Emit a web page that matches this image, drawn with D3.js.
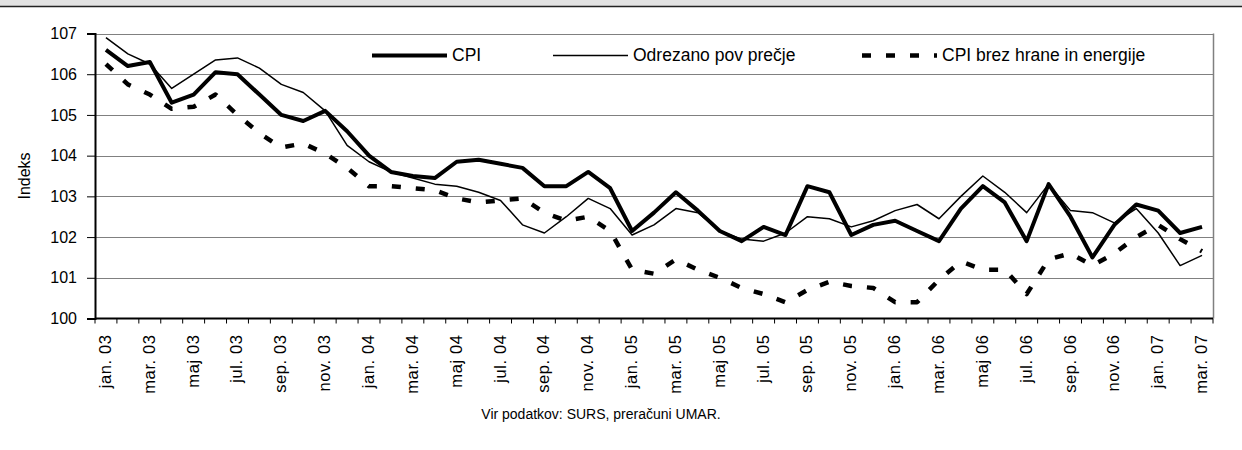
<!DOCTYPE html>
<html>
<head>
<meta charset="utf-8">
<script src="https://cdn.jsdelivr.net/npm/d3@7"></script>
<style>
  body { margin: 0; background: #fff; }
  svg { font-family: "Liberation Sans", Arial, sans-serif; }
</style>
</head>
<body>
<div id="chart"></div>
<script>
const months = ["jan.", "feb.", "mar.", "apr.", "maj", "jun.", "jul.", "avg.", "sep.", "okt.", "nov.", "dec."];
const years = ["03", "04", "05", "06", "07"];

// jan. 03 - mar. 07
const categories = [];
years.forEach(y => months.forEach(m => categories.push(m + " " + y)));
categories.splice(51);

const cpi = [106.6, 106.2, 106.3, 105.3, 105.5, 106.05, 106.0, 105.5, 105.0, 104.85,
  105.1, 104.6, 104.0, 103.6, 103.5, 103.45, 103.85, 103.9, 103.8, 103.7,
  103.25, 103.25, 103.6, 103.2, 102.15, 102.6, 103.1, 102.65, 102.15, 101.9,
  102.25, 102.05, 103.25, 103.1, 102.05, 102.3, 102.4, 102.15, 101.9, 102.7,
  103.25, 102.85, 101.9, 103.3, 102.5, 101.5, 102.3, 102.8, 102.65, 102.1, 102.25];

const odrezano = [106.9, 106.5, 106.25, 105.65, 106.0, 106.35, 106.4, 106.15, 105.75, 105.55,
  105.1, 104.25, 103.85, 103.6, 103.45, 103.3, 103.25, 103.1, 102.9, 102.3,
  102.1, 102.5, 102.95, 102.7, 102.05, 102.3, 102.7, 102.6, 102.15, 101.95,
  101.9, 102.1, 102.5, 102.45, 102.25, 102.4, 102.65, 102.8, 102.45, 103.0,
  103.5, 103.1, 102.6, 103.3, 102.65, 102.6, 102.35, 102.7, 102.1, 101.3, 101.55];

const brezHrane = [106.25, 105.75, 105.5, 105.15, 105.2, 105.5, 105.0, 104.55, 104.2, 104.3,
  104.05, 103.7, 103.25, 103.25, 103.2, 103.15, 102.95, 102.85, 102.9, 102.95,
  102.6, 102.4, 102.5, 102.15, 101.2, 101.1, 101.45, 101.2, 101.0, 100.75,
  100.6, 100.4, 100.7, 100.9, 100.8, 100.75, 100.4, 100.4, 100.95, 101.4,
  101.2, 101.2, 100.6, 101.45, 101.6, 101.3, 101.6, 102.0, 102.3, 101.95, 101.65];

const yTicks = [100, 101, 102, 103, 104, 105, 106, 107];

const series = [
  { name: "CPI", values: cpi, width: 4, dash: null, lx: 372 },
  { name: "Odrezano pov prečje", values: odrezano, width: 1.5, dash: null, lx: 553 },
  { name: "CPI brez hrane in energije", values: brezHrane, width: 4.5, dash: "9,15", lx: 862 }
];

const width = 1242, height = 450;
const plot = { left: 95, right: 1213, top: 33.5, bottom: 318.5 };

const svg = d3.select("#chart").append("svg")
  .attr("width", width)
  .attr("height", height);

// top band
svg.append("rect").attr("x", 0).attr("y", 0).attr("width", width).attr("height", 6).attr("fill", "#e2e2e2");
svg.append("line").attr("x1", 0).attr("x2", width).attr("y1", 6.5).attr("y2", 6.5)
  .attr("stroke", "#222").attr("stroke-width", 1.5);

const x = d3.scaleBand().domain(categories).range([plot.left, plot.right]);
const y = d3.scaleLinear().domain([100, 107]).range([plot.bottom, plot.top]);

// gridlines
svg.append("g")
  .selectAll("line")
  .data(yTicks.slice(1))
  .enter().append("line")
  .attr("x1", plot.left).attr("x2", plot.right)
  .attr("y1", d => Math.round(y(d)) + 0.5).attr("y2", d => Math.round(y(d)) + 0.5)
  .attr("stroke", "#808080").attr("stroke-width", 1);

// right border
svg.append("line")
  .attr("x1", plot.right + 0.5).attr("x2", plot.right + 0.5)
  .attr("y1", plot.top).attr("y2", plot.bottom)
  .attr("stroke", "#808080").attr("stroke-width", 1.5);

// y axis
const yAxis = svg.append("g")
  .attr("transform", `translate(${plot.left},0)`)
  .call(d3.axisLeft(y).tickValues(yTicks).tickSize(8).tickPadding(10).tickFormat(d3.format("d")));
yAxis.select(".domain").attr("stroke", "#000").attr("stroke-width", 2);
yAxis.selectAll(".tick line").attr("stroke", "#000");
yAxis.selectAll("text").attr("font-size", 16).attr("fill", "#000")
  .attr("font-family", "Liberation Sans, Arial, sans-serif");

// x axis ticks at category boundaries
const bounds = categories.map(c => x(c)).concat([plot.right]);
svg.append("line")
  .attr("x1", plot.left).attr("x2", plot.right)
  .attr("y1", plot.bottom).attr("y2", plot.bottom)
  .attr("stroke", "#000").attr("stroke-width", 2);
svg.append("g")
  .selectAll("line")
  .data(bounds)
  .enter().append("line")
  .attr("x1", d => d).attr("x2", d => d)
  .attr("y1", plot.bottom).attr("y2", plot.bottom + 5)
  .attr("stroke", "#000").attr("stroke-width", 1);

// x labels every second month
svg.append("g")
  .selectAll("text")
  .data(categories.filter((c, i) => i % 2 === 0))
  .enter().append("text")
  .attr("transform", d => `translate(${x(d) + x.bandwidth() / 2 + 5},${plot.bottom + 16})rotate(-90)`)
  .attr("text-anchor", "end")
  .attr("font-size", 16.5)
  .attr("letter-spacing", 0.6)
  .text(d => d);

// y title
svg.append("text")
  .attr("transform", `translate(30,${(plot.top + plot.bottom) / 2})rotate(-90)`)
  .attr("text-anchor", "middle")
  .attr("font-size", 16)
  .text("Indeks");

// lines
const line = d3.line()
  .x((d, i) => x(categories[i]) + x.bandwidth() / 2)
  .y(d => y(d));

series.forEach(s => {
  svg.append("path")
    .datum(s.values)
    .attr("fill", "none")
    .attr("stroke", "#000")
    .attr("stroke-width", s.width)
    .attr("stroke-linejoin", "round")
    .attr("stroke-dasharray", s.dash)
    .attr("d", line);
});

// legend
const legend = svg.append("g");
series.forEach(s => {
  legend.append("line")
    .attr("x1", s.lx).attr("x2", s.lx + 75)
    .attr("y1", 55.5).attr("y2", 55.5)
    .attr("stroke", "#000")
    .attr("stroke-width", s.width)
    .attr("stroke-dasharray", s.dash);
  legend.append("text")
    .attr("x", s.lx + 80).attr("y", 61)
    .attr("font-size", 17.5)
    .text(s.name);
});

// source
svg.append("text")
  .attr("x", 601).attr("y", 419)
  .attr("text-anchor", "middle")
  .attr("font-size", 14)
  .text("Vir podatkov: SURS, preračuni UMAR.");
</script>
</body>
</html>
